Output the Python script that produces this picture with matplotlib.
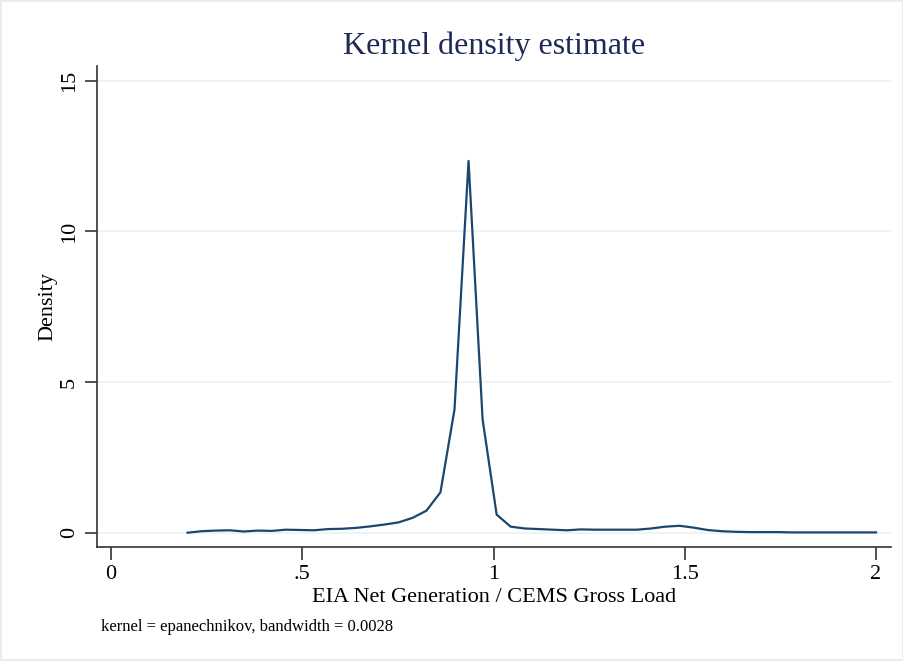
import numpy as np
import matplotlib
matplotlib.use('Agg')
import matplotlib.pyplot as plt

plt.rcParams['font.family'] = ['Liberation Serif', 'DejaVu Serif']

# 50 evaluation points of the kernel density (Stata default), min..max of the ratio
x_min, x_max, n_points = 0.2, 2.0, 50
density = [0.00, 0.05, 0.07, 0.08, 0.04, 0.07, 0.06, 0.10, 0.09, 0.08,
           0.12, 0.13, 0.16, 0.21, 0.27, 0.34, 0.49, 0.73, 1.34, 4.09,
           12.34, 3.76, 0.60, 0.20, 0.14, 0.12, 0.10, 0.08, 0.11, 0.10,
           0.10, 0.10, 0.10, 0.14, 0.20, 0.23, 0.17, 0.09, 0.05, 0.03,
           0.02, 0.02, 0.02, 0.01, 0.01, 0.01, 0.01, 0.01, 0.01, 0.01]
grid = np.linspace(x_min, x_max, n_points)

x_ticks = [0, 0.5, 1, 1.5, 2]
x_ticklabels = ['0', '.5', '1', '1.5', '2']
y_ticks = [0, 5, 10, 15]

title = 'Kernel density estimate'
xlabel = 'EIA Net Generation / CEMS Gross Load'
ylabel = 'Density'
note = 'kernel = epanechnikov, bandwidth = 0.0028'

fig = plt.figure(figsize=(9.04, 6.61), dpi=100)
fig.patch.set_edgecolor('#e6eef0')
fig.patch.set_linewidth(1.5)
ax = fig.add_axes([0.107, 0.1729, 0.8783, 0.7273])

ax.plot(grid, density, color='#1a476f', lw=1.6)

ax.set_xlim(-0.0374, 2.0384)
ax.set_ylim(-0.465, 15.49)
ax.set_xticks(x_ticks)
ax.set_xticklabels(x_ticklabels)
ax.set_yticks(y_ticks)
ax.set_yticklabels([str(t) for t in y_ticks], rotation=90, va='center')

ax.grid(axis='y', color='#eaf2f3', lw=1.2)
ax.set_axisbelow(True)
for s in ['top', 'right']:
    ax.spines[s].set_visible(False)
for s in ['left', 'bottom']:
    ax.spines[s].set_color('#333333')
    ax.spines[s].set_linewidth(1.2)
ax.tick_params(axis='both', direction='out', length=9, width=1.2,
               color='#333333', labelsize=16, pad=4)

ax.set_xlabel(xlabel, fontsize=16, labelpad=3)
ax.set_ylabel(ylabel, fontsize=16, labelpad=2)
fig.suptitle(title, x=0.546, y=0.952, fontsize=23, color='#1e2a55')
fig.text(0.112, 0.045, note, fontsize=12)

fig.savefig('out.png', dpi=100)
